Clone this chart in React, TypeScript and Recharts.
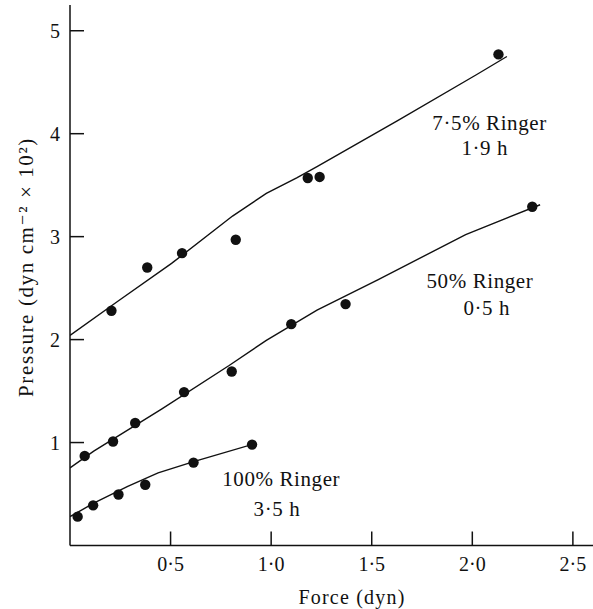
import React from 'react';
import { ComposedChart, Line, Scatter, XAxis, YAxis, ReferenceDot, Label } from 'recharts';

// measured points and hand-drawn fit curves, force (dyn) vs pressure (dyn cm^-2 x 10^2)
const ringer75Points = [
  { x: 0.206, y: 2.28 },
  { x: 0.384, y: 2.7 },
  { x: 0.557, y: 2.84 },
  { x: 0.824, y: 2.97 },
  { x: 1.182, y: 3.57 },
  { x: 1.241, y: 3.58 },
  { x: 2.13, y: 4.77 },
];
const ringer75Fit = [
  { x: 0, y: 2.04 },
  { x: 0.236, y: 2.37 },
  { x: 0.505, y: 2.74 },
  { x: 0.808, y: 3.2 },
  { x: 0.976, y: 3.42 },
  { x: 1.127, y: 3.57 },
  { x: 1.228, y: 3.68 },
  { x: 1.631, y: 4.13 },
  { x: 2.018, y: 4.57 },
  { x: 2.172, y: 4.75 },
];

const ringer50Points = [
  { x: 0.073, y: 0.87 },
  { x: 0.214, y: 1.01 },
  { x: 0.324, y: 1.19 },
  { x: 0.567, y: 1.49 },
  { x: 0.804, y: 1.69 },
  { x: 1.1, y: 2.15 },
  { x: 1.37, y: 2.345 },
  { x: 2.298, y: 3.29 },
];
const ringer50Fit = [
  { x: 0, y: 0.754 },
  { x: 0.118, y: 0.917 },
  { x: 0.455, y: 1.325 },
  { x: 0.791, y: 1.748 },
  { x: 0.976, y: 1.993 },
  { x: 1.228, y: 2.287 },
  { x: 1.53, y: 2.58 },
  { x: 1.967, y: 3.02 },
  { x: 2.337, y: 3.31 },
];

const ringer100Points = [
  { x: 0.038, y: 0.28 },
  { x: 0.115, y: 0.39 },
  { x: 0.241, y: 0.495 },
  { x: 0.374, y: 0.59 },
  { x: 0.614, y: 0.805 },
  { x: 0.905, y: 0.98 },
];
const ringer100Fit = [
  { x: 0, y: 0.28 },
  { x: 0.118, y: 0.411 },
  { x: 0.287, y: 0.574 },
  { x: 0.438, y: 0.705 },
  { x: 0.623, y: 0.819 },
  { x: 0.925, y: 0.992 },
];

const forceTicks = [0.5, 1, 1.5, 2, 2.5];
const pressureTicks = [1, 2, 3, 4, 5];

const curveLabels = [
  { text: '7·5% Ringer', x: 2.086, y: 4.038 },
  { text: '1·9 h', x: 2.062, y: 3.795 },
  { text: '50% Ringer', x: 2.038, y: 2.502 },
  { text: '0·5 h', x: 2.072, y: 2.24 },
  { text: '100% Ringer', x: 1.05, y: 0.578 },
  { text: '3·5 h', x: 1.029, y: 0.287 },
];

const INK = '#111';
const FONT = "'Liberation Serif', 'DejaVu Serif', serif";

function XTick({ x, y, payload }: any) {
  return (
    <g>
      <line x1={x} x2={x} y1={y} y2={y - 14} stroke={INK} strokeWidth={1.5} />
      <text x={x} y={y + 25} textAnchor="middle" fill={INK} fontSize={20} fontFamily={FONT}>
        {payload.value.toFixed(1).replace('.', '·')}
      </text>
    </g>
  );
}

function YTick({ x, y, payload }: any) {
  return (
    <g>
      <line x1={x} x2={x + 14} y1={y} y2={y} stroke={INK} strokeWidth={1.5} />
      <text x={x - 10} y={y + 7} textAnchor="end" fill={INK} fontSize={20} fontFamily={FONT}>
        {String(payload.value)}
      </text>
    </g>
  );
}

const dotShape = (p: any) => <circle cx={p.cx} cy={p.cy} r={5.2} fill={INK} />;

export default function App() {
  return (
    <div style={{ width: 593, height: 609, background: '#fff' }}>
      <style>{'body{margin:0;background:#fff}'}</style>
      <ComposedChart width={593} height={609} margin={{ top: 5, right: 0, bottom: 0, left: 0 }}>
        <XAxis
          type="number"
          dataKey="x"
          domain={[0, 2.6]}
          ticks={forceTicks}
          allowDataOverflow
          height={63.5}
          tickSize={0}
          tickMargin={0}
          tickLine={false}
          axisLine={{ stroke: INK, strokeWidth: 1.5 }}
          tick={<XTick />}
        >
          <Label
            content={() => (
              <text x={352} y={604} textAnchor="middle" fill={INK} fontSize={20} fontFamily={FONT} letterSpacing={1.2}>
                Force (dyn)
              </text>
            )}
          />
        </XAxis>
        <YAxis
          type="number"
          dataKey="y"
          domain={[0, 5.25]}
          ticks={pressureTicks}
          allowDataOverflow
          width={70}
          tickSize={0}
          tickMargin={0}
          tickLine={false}
          axisLine={{ stroke: INK, strokeWidth: 1.5 }}
          tick={<YTick />}
        >
          <Label
            content={() => (
              <text
                x={33}
                y={267}
                transform="rotate(-90, 33, 267)"
                textAnchor="middle"
                fill={INK}
                fontSize={21}
                fontFamily={FONT}
                letterSpacing={1.6}
              >
                Pressure (dyn cm⁻² × 10²)
              </text>
            )}
          />
        </YAxis>

        <Line data={ringer75Fit} dataKey="y" type="linear" stroke={INK} strokeWidth={1.4} dot={false} isAnimationActive={false} />
        <Line data={ringer50Fit} dataKey="y" type="linear" stroke={INK} strokeWidth={1.4} dot={false} isAnimationActive={false} />
        <Line data={ringer100Fit} dataKey="y" type="linear" stroke={INK} strokeWidth={1.4} dot={false} isAnimationActive={false} />

        <Scatter data={ringer75Points} dataKey="y" shape={dotShape} isAnimationActive={false} />
        <Scatter data={ringer50Points} dataKey="y" shape={dotShape} isAnimationActive={false} />
        <Scatter data={ringer100Points} dataKey="y" shape={dotShape} isAnimationActive={false} />

        {curveLabels.map((l) => (
          <ReferenceDot
            key={l.text}
            x={l.x}
            y={l.y}
            r={0}
            shape={(p: any) => (
              <text x={p.cx} y={p.cy} textAnchor="middle" fill={INK} fontSize={21} fontFamily={FONT} letterSpacing={0.6}>
                {l.text}
              </text>
            )}
          />
        ))}
      </ComposedChart>
    </div>
  );
}
